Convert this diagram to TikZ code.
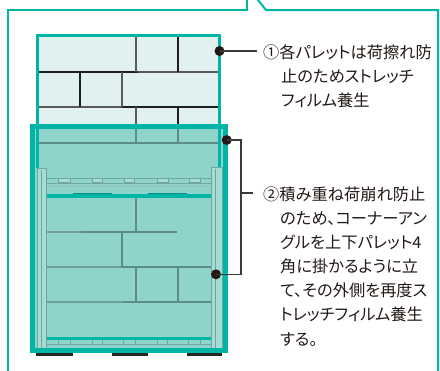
\documentclass[tikz,border=0pt]{standalone}
\usepackage{fontspec}
\newfontfamily\jp[RawFeature=+palt]{Noto Sans CJK JP}
\definecolor{teal0}{RGB}{0,181,165}
\definecolor{paleblue}{RGB}{224,241,240}
\definecolor{wrapfill}{RGB}{143,212,202}
\definecolor{anglefill}{RGB}{165,221,213}
\definecolor{angleline}{RGB}{112,166,160}
\definecolor{brickA}{RGB}{110,160,153}
\definecolor{brickB}{RGB}{92,140,134}
\definecolor{ink}{RGB}{35,24,21}
\definecolor{lead}{RGB}{58,58,58}
\tikzset{
  frame/.style={draw=teal0, line width=2bp},
  film/.style={draw=teal0, line width=3bp},
  wrapfilm/.style={draw=teal0, line width=5bp},
  darkbrick/.style={draw=black!88, line width=1.3bp},
  greybrick/.style={draw=black!65, line width=1.3bp},
  lowbrick/.style={draw=brickA, line width=1.2bp},
  lowbrickd/.style={draw=brickB, line width=1.4bp},
  deck/.style={draw=angleline, line width=0.9bp},
  cornerangle/.style={fill=anglefill, draw=angleline, line width=1bp},
  leader/.style={draw=lead, line width=1.4bp},
  dot/.style={circle, fill=ink, minimum size=10bp, inner sep=0},
  note/.style={font=\jp\fontsize{16.3}{24.2}\selectfont, text=ink, align=left,
    anchor=north west, inner sep=0},
}
\begin{document}
\begin{tikzpicture}[x=1bp, y=-1bp]
\useasboundingbox (0,0) rectangle (440,370);
\begin{scope}
\clip (0,0) rectangle (440,370);
% speech-bubble frame with its pointer at the top
\draw[frame] (8,380) -- (8,10) -- (247,10) -- (247,-5);
\draw[frame] (254,-5) -- (266,10) -- (438,10) -- (438,380);

% ---- upper pallet (stretch film) ----
\fill[paleblue] (37.5,35.5) rectangle (219.5,130);
\draw[darkbrick] (37.5,72) -- (138,72);
\draw[greybrick] (138,72) -- (219.5,72);
\draw[greybrick] (37.5,107) -- (122,107);
\draw[darkbrick] (122,107) -- (219.5,107);
\draw[greybrick] (136,35.5) -- (136,72);
\draw[darkbrick] (178,35.5) -- (178,72);
\draw[darkbrick] (80,72) -- (80,107);
\draw[greybrick] (122,72) -- (122,107);
\draw[greybrick] (136,107) -- (136,130);
\draw[darkbrick] (178,107) -- (178,130);
\draw[film] (37.5,130) -- (37.5,35.5) -- (219.5,35.5) -- (219.5,130);

% ---- outer wrap over both pallets ----
\fill[wrapfill] (32.5,126.5) rectangle (225,350);
% upper load seen through the film
\draw[film, line width=2.5bp] (37.5,129) -- (37.5,168);
\draw[film, line width=2.5bp] (219.5,129) -- (219.5,168);
\draw[lowbrickd] (136,129) -- (136,143);
\draw[lowbrickd] (178,129) -- (178,143);
\draw[lowbrickd] (39,143) -- (218,143);
% upper pallet deck
\draw[deck] (46,178) -- (211,178);
\draw[deck] (46,183) -- (211,183);
\draw[deck, draw=angleline!70] (46,186.5) -- (211,186.5);
\foreach \a/\b in {58/70,92/102,124/134,157/168,189/200}
  \draw[deck, fill=anglefill] (\a,178) rectangle (\b,182);
\draw[draw=teal0, line width=4bp] (46,195.5) -- (211,195.5);
\draw[draw=teal0!80!black, line width=1bp] (73,193.5) -- (112,193.5);
\draw[draw=teal0!80!black, line width=1bp] (148,193.5) -- (187,193.5);

% lower pallet load
\draw[lowbrick] (46,232) -- (81,232);
\draw[lowbrickd] (81,232) -- (177,232);
\draw[lowbrick] (46,267) -- (122,267);
\draw[lowbrickd] (122,267) -- (211,267);
\draw[lowbrick] (46,302) -- (123,302);
\draw[lowbrickd] (123,302) -- (211,302);
\draw[lowbrickd] (136,197.5) -- (136,232);
\draw[lowbrickd] (122,232) -- (122,267);
\draw[lowbrickd] (136,267) -- (136,302);
\draw[lowbrickd] (178,267) -- (178,302);
% lower pallet deck
\draw[draw=teal0, line width=2.5bp] (46,338.5) -- (211,338.5);
\draw[deck] (46,344) -- (211,344);
\foreach \a/\b in {58/70,92/102,123/135,157/167,188/200}
  \draw[deck] (\a,340) -- (\a,344) (\b,340) -- (\b,344);

% corner angles
\draw[cornerangle] (37.5,168) rectangle (46,352);
\draw[deck] (41,170) -- (41,352);
\draw[cornerangle] (211,167) rectangle (222,352);
\draw[deck] (215,169) -- (215,352);

% outer film edge
\draw[wrapfilm] (32.5,126.5) rectangle (225,350);

% pallet feet
\fill[black!85] (36,353) rectangle (73,356);
\fill[black!85] (112,353) rectangle (148,356);
\fill[black!85] (187,353) rectangle (222,356);
\end{scope}

% ---- callouts ----
\node[dot] (d1) at (219.5,51) {};
\coordinate (e1) at (257,51);
\draw[leader] (d1.center) -- (e1);
\node[note] (t1) at (263,44.5) {①各パレットは荷擦れ防\\\hspace*{18bp}止のためストレッチ\\\hspace*{18bp}フィルム養生};

\node[dot] (d2) at (226.7,140) {};
\node[dot] (d3) at (216,274.3) {};
\coordinate (b1) at (241,140);
\coordinate (b2) at (241,274.3);
\coordinate (bm) at (241,193);
\coordinate (e2) at (253,193);
\draw[leader] (d2.center) -- (b1) -- (b2) -- (d3.center);
\draw[leader] (bm) -- (e2);
\node[note] (t2) at (263,186.5) {②積み重ね荷崩れ防止\\\hspace*{17bp}のため、コーナーアン\\\hspace*{17bp}グルを上下パレット4\\\hspace*{17bp}角に掛かるように立\\\hspace*{17bp}て、その外側を再度ス\\\hspace*{17bp}トレッチフィルム養生\\\hspace*{17bp}する。};
\end{tikzpicture}
\end{document}
